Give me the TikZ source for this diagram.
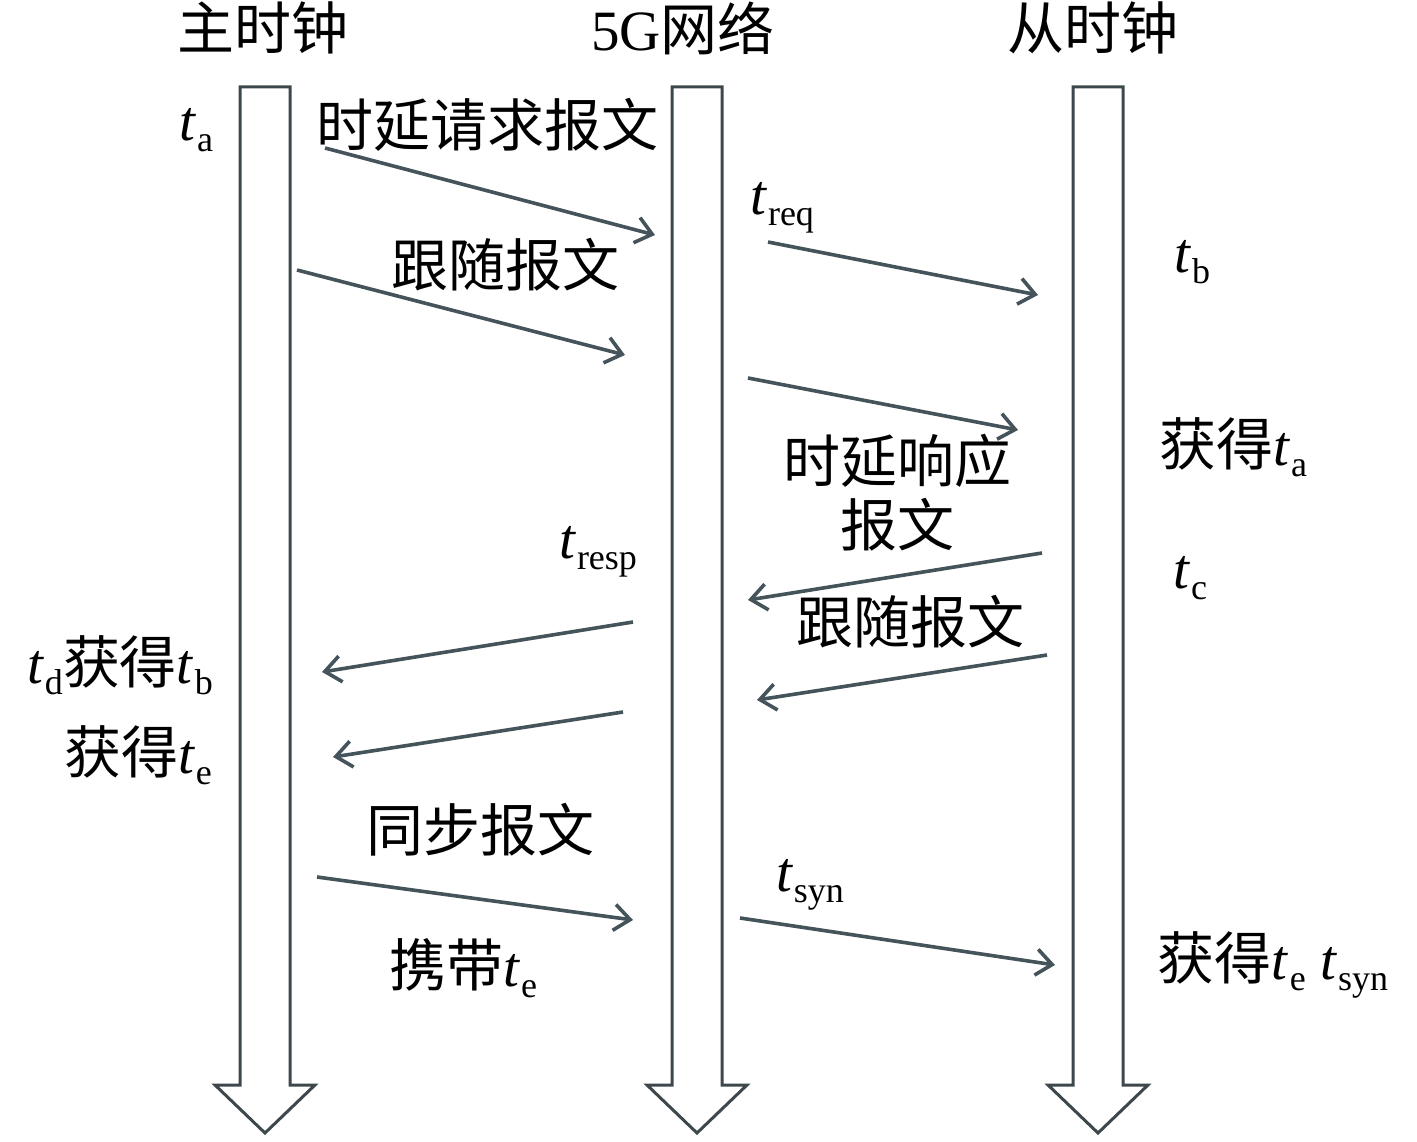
\documentclass[tikz,border=0pt]{standalone}
\usepackage{fontspec}
\setmainfont{Liberation Serif}
\newfontfamily\cjk{Noto Sans CJK SC}
\usetikzlibrary{arrows.meta}
\definecolor{lanecol}{HTML}{3E484C}
\definecolor{msgcol}{HTML}{44545A}
\newcommand\tv[1]{\textit{t}\kern1pt\raisebox{-11pt}{\fontsize{36}{36}\selectfont #1}}
\begin{document}
\begin{tikzpicture}[x=1pt,y=-1pt,
  lane/.style={draw=lanecol,line width=3pt,fill=white,line join=miter},
  msg/.style={draw=msgcol,line width=3.6pt,-{Straight Barb[length=16pt,width=26pt,line width=3.6pt]}},
  lbl/.style={inner sep=0pt,font=\fontsize{57}{62}\selectfont},
  hdr/.style={lbl}]
\useasboundingbox (0,0) rectangle (1417,1142);
% vertical time lines
\foreach \cx/\nm in {265/m,697/n,1098/s}{
  \draw[lane] (\cx-25,87) -- (\cx+25,87) -- (\cx+25,1085) -- (\cx+50,1085) -- (\cx,1133) -- (\cx-50,1085) -- (\cx-25,1085) -- cycle;
}
% headers
\node[hdr] (hm) at (263,28) {\cjk 主时钟};
\node[hdr] (hn) at (683,28) {5G{\cjk 网络}};
\node[hdr] (hs) at (1093,28) {\cjk 从时钟};
% labels
\node[lbl] (ta) at (196,130) {\tv{a}};
\node[lbl] (l1) at (487,125) {\cjk 时延请求报文};
\node[lbl] (treq) at (782,208) {\tv{req}};
\node[lbl] (l2) at (505,265) {\cjk 跟随报文};
\node[lbl] (tb) at (1192,262) {\tv{b}};
\node[lbl] (gta) at (1233,447) {{\cjk 获得}\tv{a}};
\node[lbl,align=center] (l3) at (897,493) {\cjk 时延响应\\[2pt]\cjk 报文};
\node[lbl] (tresp) at (598,552) {\tv{resp}};
\node[lbl] (tc) at (1190,578) {\tv{c}};
\node[lbl] (l4) at (910,622) {\cjk 跟随报文};
\node[lbl] (tdgtb) at (120,665) {\tv{d}{\cjk 获得}\tv{b}};
\node[lbl] (gte) at (138,755) {{\cjk 获得}\tv{e}};
\node[lbl] (l5) at (480,830) {\cjk 同步报文};
\node[lbl] (tsyn) at (810,885) {\tv{syn}};
\node[lbl] (l6) at (463,968) {{\cjk 携带}\tv{e}};
\node[lbl] (gtes) at (1273,965) {{\cjk 获得}\tv{e} \tv{syn}};
% message end points
\coordinate (a1) at (325,148); \coordinate (b1) at (655,235);
\coordinate (a2) at (297,270); \coordinate (b2) at (625,355);
\coordinate (a3) at (768,242); \coordinate (b3) at (1038,295);
\coordinate (a4) at (748,378); \coordinate (b4) at (1018,430);
\coordinate (a5) at (1042,553); \coordinate (b5) at (748,600);
\coordinate (a6) at (1047,655); \coordinate (b6) at (757,700);
\coordinate (a7) at (633,622); \coordinate (b7) at (322,672);
\coordinate (a8) at (623,712); \coordinate (b8) at (333,757);
\coordinate (a9) at (317,877); \coordinate (b9) at (633,920);
\coordinate (a10) at (740,918); \coordinate (b10) at (1055,965);
\foreach \i in {1,...,10}{\draw[msg] (a\i) -- (b\i);}
\end{tikzpicture}
\end{document}
